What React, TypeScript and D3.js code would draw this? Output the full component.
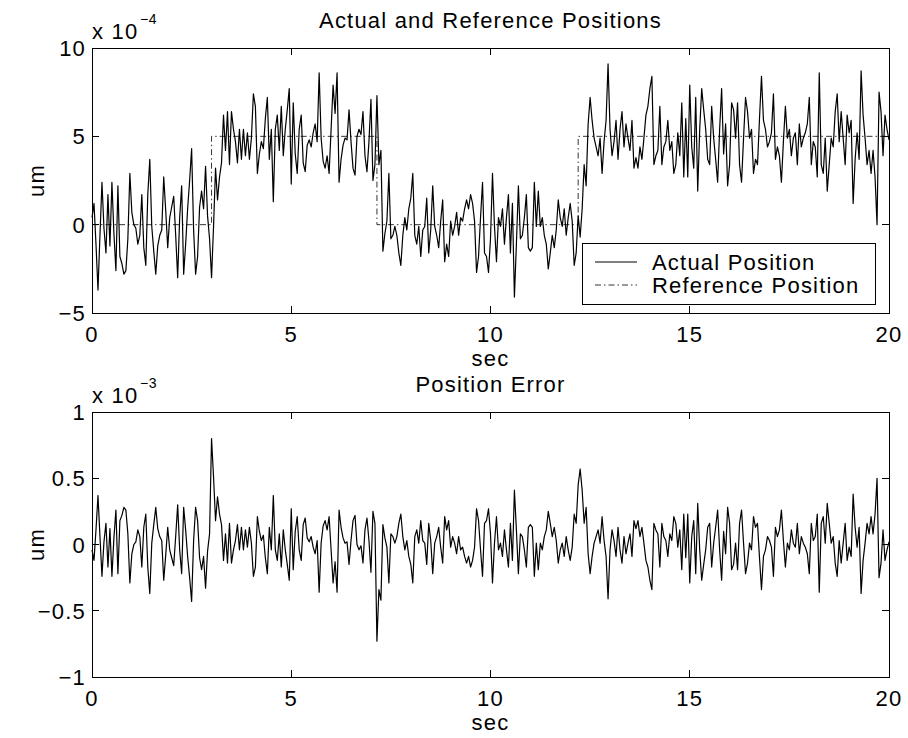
import React from "react";
import * as d3 from "d3";

// Sampling interval of the logged signals (seconds)
const SAMPLE_DT = 0.05;

// Position error, reference minus actual, in units of 1e-4 um (one row per second)
const positionError: number[] = [
  -0.4, -1.2, 1.1, 3.7, 0.6, -2.4, 0.2, 1.6, -1.7, 1.2, -2.4, 0.5, 2.6, -2.2, 1.8, 2.2, 2.8, 2.6, 0.8, -2.9,
  -0.7, 0.0, 0.2, 1.1, 0.6, -1.7, 1.3, 2.3, -1.7, -3.7, 0.1, 1.5, 2.8, 1.2, 0.6, 0.3, -2.7, -0.8, 1.3, -0.4,
  -1.0, -1.6, 0.6, 3.0, -0.4, -2.2, 2.8, 1.1, -0.9, -2.5, -4.3, 0.3, 2.8, 1.8, -1.0, -1.9, -0.9, -3.3, -0.5, 0.8,
  8.0, 5.1, 1.8, 3.6, 2.3, 1.5, -1.2, 0.8, -1.4, 1.6, -1.4, -0.4, 0.3, 1.5, -0.4, 1.3, -0.4, 1.1, -0.2, 1.3,
  0.1, -2.4, -1.7, 2.1, 1.0, 0.3, 0.7, -1.0, -2.2, 1.3, -0.4, 3.7, -0.4, -1.2, 0.8, -1.7, 1.1, -0.4, -1.5, -2.7,
  2.7, -1.9, 1.0, 2.1, -0.4, -1.2, 1.5, 2.0, 0.5, 0.2, 0.6, -0.2, -0.7, 0.3, -3.6, 0.1, 1.4, 1.8, 1.1, 2.1,
  -0.4, -2.9, -1.3, -3.6, 2.6, 1.3, 0.5, 0.1, 0.2, -1.5, 0.3, 1.8, 2.2, 0.0, -0.4, -0.1, -1.4, 1.1, 2.0, 0.3,
  -2.1, 2.5, 1.6, -7.3, -3.4, -4.2, 1.5, 0.5, -0.2, -2.9, 0.8, 0.6, 0.1, 0.6, 1.6, 2.3, 0.6, -0.4, 0.3, -0.9,
  -1.5, -2.9, 0.6, 1.1, 0.1, 1.8, 0.3, 0.1, -1.5, 1.6, 0.3, -2.2, 0.1, 0.6, 1.3, -0.2, -1.4, 2.1, 1.1, 1.8,
  -0.2, 0.6, 0.1, -0.7, 0.6, -0.4, -0.2, -0.9, -1.4, -0.9, -1.7, -1.2, -0.2, 2.7, 1.8, -0.4, -2.4, 1.6, 1.8, 2.7,
  0.8, -2.9, 0.1, 2.1, -0.4, 0.1, -0.9, 1.1, -0.4, -1.7, 1.6, -1.2, 4.1, 1.1, -2.2, 0.8, 0.6, -0.4, -1.7, 1.3,
  1.5, 1.3, -2.4, 0.1, -1.9, 0.1, -0.4, 0.6, 1.1, 2.5, 1.6, 0.6, 1.3, 0.3, -1.4, -0.4, 0.1, -0.9, 0.6, -0.4,
  -1.2, -0.2, 2.3, 1.6, 4.5, 5.7, 4.1, 1.6, 2.8, -0.7, -2.2, -0.9, 0.1, 0.6, 1.1, 0.1, 2.1, 0.3, -0.9, -4.1,
  -0.4, 1.1, 0.3, -0.9, 1.3, -0.4, -1.4, 0.6, -0.7, 0.1, 0.8, -0.9, 1.8, 1.2, 1.8, 0.6, 1.3, 0.1, -1.2, -1.7,
  -2.7, -3.4, 1.6, 1.1, 0.8, -1.7, 1.6, 0.6, 0.3, -0.9, 0.8, 0.3, 2.1, 1.6, -0.2, 1.1, -1.9, 2.3, -1.0, 2.3,
  -2.9, 0.6, 1.8, -2.2, 3.1, -0.4, -2.7, -1.5, -0.4, 1.3, 1.6, -1.7, 0.1, 1.3, 2.6, -0.4, -2.7, 1.0, -0.7, 2.8,
  1.6, -1.9, -1.5, 0.1, -1.9, 1.6, 2.6, 0.1, -2.2, -1.4, 0.1, -0.4, 2.1, 1.3, 1.6, -1.0, -3.4, -0.9, -0.4, 0.6,
  0.3, -0.2, -2.4, 1.3, 0.6, 1.1, 2.6, 0.3, -1.7, 0.1, -0.4, 1.1, 0.1, -0.2, 1.6, -0.7, 0.6, 0.1, -0.2, -0.7,
  -2.2, 1.6, 0.3, 0.6, 2.3, -3.6, 1.6, 2.1, 0.1, 3.1, 1.6, 0.1, 0.6, -1.4, -2.4, 0.3, -1.4, 0.1, 1.6, -1.2,
  -0.2, -0.9, 3.8, 1.3, -0.2, 1.3, -3.7, -1.2, 0.1, 1.6, 0.8, 2.1, 0.8, 2.3, 5.0, -2.5, -1.4, 1.1, -1.2, -0.4,
  0.2,
];

// Reference position command: switching times (s) and levels (1e-4 um)
const referenceStepTimes = [0, 3.0, 7.15, 12.2];
const referenceLevels = [0, 5, 0, 5];
const END_TIME = 20;

// Axis ticks
const timeTicks = [0, 5, 10, 15, 20];
const positionTicks = [-5, 0, 5, 10];
const errorTicks = [-1, -0.5, 0, 0.5, 1];

const legendLabels = ["Actual Position", "Reference Position"];

const FONT = "'Liberation Sans', Arial, Helvetica, sans-serif";
const FS = 22;
const LS = 1.2;

const W = 908;
const H = 738;
const PLOT_LEFT = 92;
const PLOT_RIGHT = 889;
const TOP_AXES = { top: 48, bottom: 313 };
const BOTTOM_AXES = { top: 412, bottom: 677 };
const TICK = 7;
const DASH_DOT = "6,3,1.5,3";

function referenceAt(t: number): number {
  let level = referenceLevels[0];
  referenceStepTimes.forEach((s, i) => {
    if (t >= s - 1e-9) level = referenceLevels[i];
  });
  return level;
}

const fmt = (v: number) => (v < 0 ? "\u2212" + String(-v) : String(v));

type AxesProps = {
  top: number;
  bottom: number;
  yScale: d3.ScaleLinear<number, number>;
  xScale: d3.ScaleLinear<number, number>;
  yTicks: number[];
  title: string;
  exponent: string;
  children?: React.ReactNode;
};

function Axes({ top, bottom, yScale, xScale, yTicks, title, exponent, children }: AxesProps) {
  const midX = (PLOT_LEFT + PLOT_RIGHT) / 2;
  const midY = (top + bottom) / 2;
  return (
    <g>
      <rect x={PLOT_LEFT} y={top} width={PLOT_RIGHT - PLOT_LEFT} height={bottom - top} fill="#fff" />
      {children}
      <rect
        x={PLOT_LEFT}
        y={top}
        width={PLOT_RIGHT - PLOT_LEFT}
        height={bottom - top}
        fill="none"
        stroke="#000"
        strokeWidth={1}
        shapeRendering="crispEdges"
      />
      {timeTicks.map((t) => {
        const x = xScale(t);
        return (
          <g key={"xt" + t}>
            <line x1={x} x2={x} y1={bottom} y2={bottom - TICK} stroke="#000" shapeRendering="crispEdges" />
            <line x1={x} x2={x} y1={top} y2={top + TICK} stroke="#000" shapeRendering="crispEdges" />
            <text
              x={x}
              y={bottom + 29}
              textAnchor="middle"
              fontFamily={FONT}
              fontSize={FS}
              letterSpacing={LS}
            >
              {fmt(t)}
            </text>
          </g>
        );
      })}
      {yTicks.map((v) => {
        const y = yScale(v);
        return (
          <g key={"yt" + v}>
            <line x1={PLOT_LEFT} x2={PLOT_LEFT + TICK} y1={y} y2={y} stroke="#000" shapeRendering="crispEdges" />
            <line x1={PLOT_RIGHT} x2={PLOT_RIGHT - TICK} y1={y} y2={y} stroke="#000" shapeRendering="crispEdges" />
            <text
              x={PLOT_LEFT - 6}
              y={y + 8}
              textAnchor="end"
              fontFamily={FONT}
              fontSize={FS}
              letterSpacing={LS}
            >
              {fmt(v)}
            </text>
          </g>
        );
      })}
      <text x={midX} y={top - 20} textAnchor="middle" fontFamily={FONT} fontSize={FS} letterSpacing={LS}>
        {title}
      </text>
      <text x={PLOT_LEFT} y={top - 9} fontFamily={FONT} fontSize={FS} letterSpacing={LS}>
        x 10
      </text>
      <text x={PLOT_LEFT + 48} y={top - 24} fontFamily={FONT} fontSize={14} letterSpacing={0.6}>
        {exponent}
      </text>
      <text x={midX} y={bottom + 53} textAnchor="middle" fontFamily={FONT} fontSize={FS} letterSpacing={LS}>
        sec
      </text>
      <text
        transform={`translate(${44},${midY}) rotate(-90)`}
        textAnchor="middle"
        fontFamily={FONT}
        fontSize={FS}
        letterSpacing={LS}
      >
        um
      </text>
    </g>
  );
}

export default function App() {
  const times = positionError.map((_, i) => i * SAMPLE_DT);
  const actual = times.map((t, i) => referenceAt(t) - positionError[i]);

  const x = d3.scaleLinear().domain([0, END_TIME]).range([PLOT_LEFT, PLOT_RIGHT]);
  const yTop = d3.scaleLinear().domain([-5, 10]).range([TOP_AXES.bottom, TOP_AXES.top]);
  const yBottom = d3.scaleLinear().domain([-1, 1]).range([BOTTOM_AXES.bottom, BOTTOM_AXES.top]);

  const refPoints: [number, number][] = referenceStepTimes.map((t, i) => [t, referenceLevels[i]]);
  refPoints.push([END_TIME, referenceLevels[referenceLevels.length - 1]]);

  const refPath =
    d3
      .line<[number, number]>()
      .x((d) => x(d[0]))
      .y((d) => yTop(d[1]))
      .curve(d3.curveStepAfter)(refPoints) || "";

  const actualPath =
    d3
      .line<number>()
      .x((_, i) => x(times[i]))
      .y((d) => yTop(d))(actual) || "";

  // error axis is in units of 1e-3, data are stored in 1e-4
  const errorPath =
    d3
      .line<number>()
      .x((_, i) => x(times[i]))
      .y((d) => yBottom(d / 10))(positionError) || "";

  const legend = { x: 582, y: 243, w: 293, h: 61 };

  return (
    <svg
      width={W}
      height={H}
      viewBox={`0 0 ${W} ${H}`}
      style={{ position: "fixed", left: 0, top: 0, background: "#fff" }}
    >
      <rect x={0} y={0} width={W} height={H} fill="#fff" />
      <Axes
        top={TOP_AXES.top}
        bottom={TOP_AXES.bottom}
        xScale={x}
        yScale={yTop}
        yTicks={positionTicks}
        title="Actual and Reference Positions"
        exponent={"\u22124"}
      >
        <path d={refPath} fill="none" stroke="#000" strokeWidth={0.8} strokeDasharray={DASH_DOT} />
        <path d={actualPath} fill="none" stroke="#000" strokeWidth={1.2} strokeLinejoin="round" />
        <g>
          <rect
            x={legend.x}
            y={legend.y}
            width={legend.w}
            height={legend.h}
            fill="#fff"
            stroke="#000"
            strokeWidth={1}
            shapeRendering="crispEdges"
          />
          {legendLabels.map((label, i) => {
            const ly = legend.y + 19 + i * 23;
            return (
              <g key={label}>
                <line
                  x1={legend.x + 13}
                  x2={legend.x + 55}
                  y1={ly}
                  y2={ly}
                  stroke="#000"
                  strokeWidth={i === 0 ? 1 : 0.8}
                  strokeDasharray={i === 0 ? undefined : DASH_DOT}
                />
                <text x={legend.x + 70} y={ly + 8} fontFamily={FONT} fontSize={FS} letterSpacing={LS}>
                  {label}
                </text>
              </g>
            );
          })}
        </g>
      </Axes>
      <Axes
        top={BOTTOM_AXES.top}
        bottom={BOTTOM_AXES.bottom}
        xScale={x}
        yScale={yBottom}
        yTicks={errorTicks}
        title="Position Error"
        exponent={"\u22123"}
      >
        <path d={errorPath} fill="none" stroke="#000" strokeWidth={1.2} strokeLinejoin="round" />
      </Axes>
    </svg>
  );
}
